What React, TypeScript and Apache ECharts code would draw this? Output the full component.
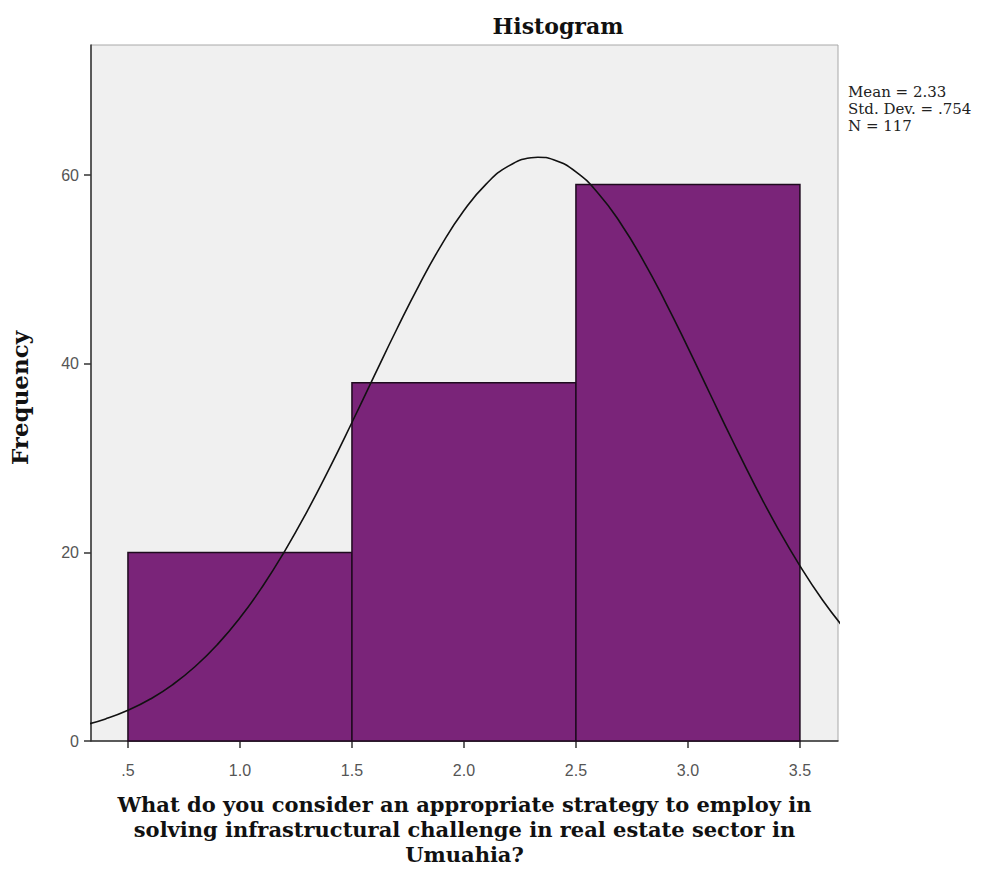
import React, { useEffect, useRef } from "react";
import * as echarts from "echarts";

const binStarts = [0.5, 1.5, 2.5];
const binEnds = [1.5, 2.5, 3.5];
const frequencies = [20, 38, 59];

const curveX = [0.3, 0.4, 0.5, 0.6, 0.7, 0.8, 0.9, 1.0, 1.1, 1.2, 1.3, 1.4, 1.5, 1.6, 1.7, 1.8, 1.9, 2.0, 2.1, 2.2, 2.3, 2.33, 2.4, 2.5, 2.6, 2.7, 2.8, 2.9, 3.0, 3.1, 3.2, 3.3, 3.4, 3.5, 3.6, 3.7];
const curveY = [1.65, 2.34, 3.25, 4.45, 5.98, 7.9, 10.25, 13.06, 16.36, 20.14, 24.35, 28.93, 33.77, 38.74, 43.66, 48.35, 52.61, 56.25, 59.08, 60.98, 61.85, 61.9, 61.63, 60.35, 58.06, 54.88, 50.97, 46.52, 41.71, 36.74, 31.81, 27.06, 22.61, 18.57, 14.98, 11.88];

const xTicks = [0.5, 1.0, 1.5, 2.0, 2.5, 3.0, 3.5];
const yTicks = [0, 20, 40, 60];

const statsLines = ["Mean = 2.33", "Std. Dev. = .754", "N = 117"];
const titleText = "Histogram";
const xName = "What do you consider an appropriate strategy to employ in\nsolving infrastructural challenge in real estate sector in\nUmuahia?";
const yName = "Frequency";

export default function App() {
  const ref = useRef<HTMLDivElement>(null);
  useEffect(() => {
    if (!ref.current) return;
    const chart = echarts.init(ref.current, null, { renderer: "svg" });
    const barData = binStarts.map((s, i) => [s, binEnds[i], frequencies[i]]);
    const lineData = curveX.map((x, i) => [x, curveY[i]]);
    chart.setOption({
      animation: false,
      backgroundColor: "#ffffff",
      title: {
        text: titleText,
        left: 553,
        textAlign: "center",
        top: 10,
        textStyle: { fontFamily: "DejaVu Serif", fontWeight: "bold", fontSize: 22, color: "#111" },
      },
      grid: {
        left: 90,
        right: 151,
        top: 45,
        bottom: 130,
        show: true,
        backgroundColor: "#f0f0f0",
        borderColor: "#a8a8a8",
        borderWidth: 1,
      },
      xAxis: {
        type: "value",
        min: 0.335,
        max: 3.67,
        name: xName,
        nameLocation: "middle",
        nameGap: 51,
        nameTextStyle: { fontFamily: "DejaVu Serif", fontWeight: "bold", fontSize: 21, color: "#111", lineHeight: 25, verticalAlign: "top" },
        axisLine: { show: true, onZero: false, lineStyle: { color: "#333", width: 1.5 } },
        axisTick: { show: true, customValues: xTicks, length: 7, lineStyle: { color: "#333", width: 1.5 } },
        axisLabel: {
          customValues: xTicks,
          formatter: (v: number) => (v === 0.5 ? ".5" : v.toFixed(1)),
          fontFamily: "Liberation Sans",
          fontSize: 16,
          color: "#555",
          margin: 21,
        },
        splitLine: { show: false },
      },
      yAxis: {
        type: "value",
        min: 0,
        max: 73.8,
        name: yName,
        nameLocation: "middle",
        nameGap: 60,
        nameRotate: 90,
        nameTextStyle: { fontFamily: "DejaVu Serif", fontWeight: "bold", fontSize: 23, color: "#111", padding: [0, 10, 0, 0] },
        axisLine: { show: true, lineStyle: { color: "#333", width: 1.5 } },
        axisTick: { show: true, customValues: yTicks, length: 7, lineStyle: { color: "#333", width: 1.5 } },
        axisLabel: {
          customValues: yTicks,
          fontFamily: "Liberation Sans",
          fontSize: 16,
          color: "#555",
          margin: 12,
        },
        splitLine: { show: false },
      },
      graphic: [
        {
          type: "text",
          left: 848,
          top: 83,
          style: {
            text: statsLines.join("\n"),
            font: "15px 'DejaVu Serif'",
            lineHeight: 17,
            fill: "#222",
          },
        },
      ],
      series: [
        {
          type: "custom",
          z: 2,
          data: barData,
          encode: { x: [0, 1], y: 2 },
          renderItem: (params: any, api: any) => {
            const p0 = api.coord([api.value(0), 0]);
            const p1 = api.coord([api.value(1), api.value(2)]);
            return {
              type: "rect",
              shape: { x: p0[0], y: p1[1], width: p1[0] - p0[0], height: p0[1] - p1[1] },
              style: { fill: "#7a2479", stroke: "#1e0a1e", lineWidth: 1.5 },
            };
          },
        },
        {
          type: "line",
          z: 3,
          data: lineData,
          smooth: true,
          showSymbol: false,
          clip: true,
          lineStyle: { color: "#111", width: 1.6 },
        },
      ],
    });
    return () => chart.dispose();
  }, []);
  return <div ref={ref} style={{ position: "absolute", left: 0, top: 0, width: 989, height: 872 }} />;
}
